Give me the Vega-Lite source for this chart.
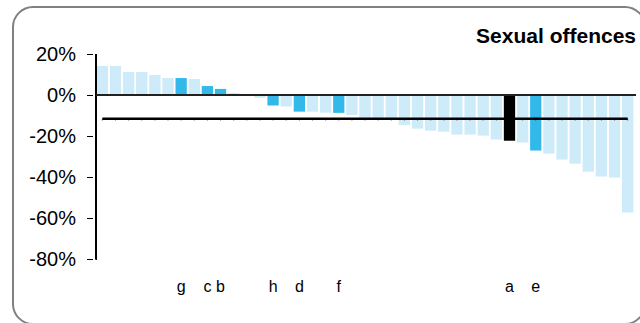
{
  "$schema": "https://vega.github.io/schema/vega-lite/v6.json",
  "autosize": {"type": "none"},
  "padding": {"left": 13, "top": 7, "right": 0, "bottom": 0},
  "width": 632,
  "height": 317,
  "config": {
    "view": {"stroke": "#808080", "strokeWidth": 2, "cornerRadius": 20, "fill": "white"},
    "font": "Liberation Sans"
  },
  "title": {"text": "Sexual offences", "anchor": "end", "frame": "group", "offset": -57, "baseline": "alphabetic", "fontSize": 21, "fontWeight": "bold", "font": "Liberation Sans", "dx": -9, "color": "black"},
  "datasets": {
    "bars": [
      {"id": 1, "v": 14.3, "grp": "other", "label": ""},
      {"id": 2, "v": 14.3, "grp": "other", "label": ""},
      {"id": 3, "v": 11.4, "grp": "other", "label": ""},
      {"id": 4, "v": 11.4, "grp": "other", "label": ""},
      {"id": 5, "v": 9.9, "grp": "other", "label": ""},
      {"id": 6, "v": 8.4, "grp": "other", "label": ""},
      {"id": 7, "v": 8.4, "grp": "highlight", "label": "g"},
      {"id": 8, "v": 7.9, "grp": "other", "label": ""},
      {"id": 9, "v": 4.5, "grp": "highlight", "label": "c"},
      {"id": 10, "v": 3.1, "grp": "highlight", "label": "b"},
      {"id": 11, "v": 1.1, "grp": "other", "label": ""},
      {"id": 12, "v": 0.6, "grp": "other", "label": ""},
      {"id": 13, "v": -1.2, "grp": "other", "label": ""},
      {"id": 14, "v": -5.0, "grp": "highlight", "label": "h"},
      {"id": 15, "v": -5.5, "grp": "other", "label": ""},
      {"id": 16, "v": -8.0, "grp": "highlight", "label": "d"},
      {"id": 17, "v": -8.0, "grp": "other", "label": ""},
      {"id": 18, "v": -8.5, "grp": "other", "label": ""},
      {"id": 19, "v": -8.6, "grp": "highlight", "label": "f"},
      {"id": 20, "v": -9.6, "grp": "other", "label": ""},
      {"id": 21, "v": -11.2, "grp": "other", "label": ""},
      {"id": 22, "v": -11.2, "grp": "other", "label": ""},
      {"id": 23, "v": -11.4, "grp": "other", "label": ""},
      {"id": 24, "v": -14.5, "grp": "other", "label": ""},
      {"id": 25, "v": -16.3, "grp": "other", "label": ""},
      {"id": 26, "v": -17.3, "grp": "other", "label": ""},
      {"id": 27, "v": -17.8, "grp": "other", "label": ""},
      {"id": 28, "v": -19.2, "grp": "other", "label": ""},
      {"id": 29, "v": -19.2, "grp": "other", "label": ""},
      {"id": 30, "v": -19.7, "grp": "other", "label": ""},
      {"id": 31, "v": -21.6, "grp": "other", "label": ""},
      {"id": 32, "v": -22.2, "grp": "focus", "label": "a"},
      {"id": 33, "v": -23.1, "grp": "other", "label": ""},
      {"id": 34, "v": -27.0, "grp": "highlight", "label": "e"},
      {"id": 35, "v": -28.5, "grp": "other", "label": ""},
      {"id": 36, "v": -31.4, "grp": "other", "label": ""},
      {"id": 37, "v": -33.4, "grp": "other", "label": ""},
      {"id": 38, "v": -37.3, "grp": "other", "label": ""},
      {"id": 39, "v": -39.7, "grp": "other", "label": ""},
      {"id": 40, "v": -40.2, "grp": "other", "label": ""},
      {"id": 41, "v": -57.3, "grp": "other", "label": ""}
    ]
  },
  "data": {"name": "bars"},
  "layer": [
    {
      "mark": {"type": "bar", "orient": "vertical", "width": 11.3},
      "encoding": {
        "x": {"field": "id", "type": "quantitative", "axis": null,
              "scale": {"domain": [-5.422, 41.937], "nice": false, "zero": false}},
        "y": {"field": "v", "type": "quantitative", "title": null,
              "scale": {"domain": [-111.7, 43.1], "nice": false, "zero": false},
              "axis": {"values": [-80, -60, -40, -20, 0, 20], "labelExpr": "datum.value + '%'", "grid": false, "domain": false,
                       "offset": -79.5, "tickSize": 6, "tickColor": "black", "tickWidth": 1,
                       "labelFontSize": 20, "labelColor": "black", "labelFont": "Liberation Sans", "labelPadding": 11}},
        "color": {"field": "grp", "type": "nominal", "legend": null,
                  "scale": {"domain": ["other", "highlight", "focus"], "range": ["#cdebf8", "#33b9e9", "#000000"]}}
      }
    },
    {
      "mark": {"type": "rule", "color": "black", "strokeWidth": 1},
      "encoding": {
        "x": {"datum": 0.535, "type": "quantitative"},
        "y": {"datum": -80, "type": "quantitative"},
        "y2": {"datum": 20}
      }
    },
    {
      "mark": {"type": "rule", "color": "#222222", "strokeWidth": 1.5},
      "encoding": {
        "x": {"datum": 0.535, "type": "quantitative"},
        "x2": {"datum": 41.6},
        "y": {"datum": 0, "type": "quantitative"}
      }
    },
    {
      "mark": {"type": "line", "color": "black", "strokeWidth": 2.5},
      "encoding": {
        "x": {"field": "id", "type": "quantitative"},
        "y": {"datum": -11.5, "type": "quantitative"}
      }
    },
    {
      "mark": {"type": "rule", "color": "black", "strokeWidth": 1, "opacity": 0.7},
      "encoding": {
        "x": {"field": "id", "type": "quantitative"},
        "y": {"datum": -11.5, "type": "quantitative"},
        "y2": {"datum": -12.3}
      }
    },
    {
      "transform": [{"filter": "datum.label != ''"}],
      "mark": {"type": "text", "baseline": "alphabetic", "fontSize": 16, "font": "Liberation Sans", "color": "black"},
      "encoding": {
        "x": {"field": "id", "type": "quantitative"},
        "y": {"datum": -96, "type": "quantitative"},
        "text": {"field": "label"}
      }
    }
  ]
}
